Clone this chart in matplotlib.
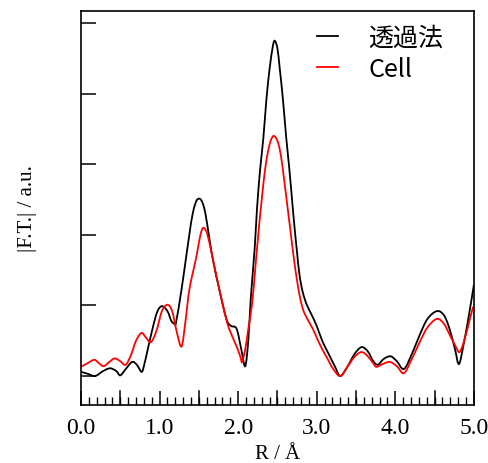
import numpy as np
import matplotlib
matplotlib.use("Agg")
import matplotlib.pyplot as plt
from matplotlib.ticker import MultipleLocator
from matplotlib.path import Path
from matplotlib.patches import PathPatch

# R / Å and |F.T.| (arbitrary units, one y tick = 1)
r_trans = [0.00, 0.09, 0.18, 0.28, 0.37, 0.45, 0.50, 0.57, 0.65, 0.71, 0.77, 0.80,
           0.85, 0.91, 0.97, 1.03, 1.10, 1.15, 1.19, 1.21, 1.28, 1.34, 1.42, 1.49,
           1.57, 1.67, 1.76, 1.85, 1.91, 1.98, 2.04, 2.09, 2.13, 2.16, 2.21, 2.24,
           2.28, 2.32, 2.36, 2.40, 2.44, 2.465, 2.50, 2.53, 2.57, 2.61, 2.65, 2.69,
           2.72, 2.75, 2.78, 2.82, 2.87, 2.93, 3.00, 3.07, 3.14, 3.23, 3.30,
           3.39, 3.48, 3.57, 3.65, 3.72, 3.78, 3.85, 3.94, 4.02, 4.11, 4.21, 4.31,
           4.41, 4.53, 4.62, 4.69, 4.76, 4.81, 4.87, 4.94, 5.00]
ft_trans = [0.06, 0.03, 0.00, 0.07, 0.11, 0.07, 0.01, 0.10, 0.20, 0.16, 0.06, 0.14,
            0.38, 0.67, 0.91, 0.99, 0.92, 0.78, 0.74, 0.76, 1.23, 1.70, 2.29, 2.51,
            2.37, 1.70, 1.23, 0.81, 0.71, 0.67, 0.38, 0.14, 0.52, 1.09, 1.80, 2.37,
            2.93, 3.36, 3.92, 4.35, 4.66, 4.75, 4.64, 4.35, 3.92, 3.40, 2.95, 2.45,
            2.08, 1.75, 1.44, 1.20, 1.02, 0.88, 0.71, 0.50, 0.34, 0.14, 0.00,
            0.13, 0.31, 0.41, 0.35, 0.21, 0.16, 0.24, 0.28, 0.21, 0.10, 0.31, 0.58,
            0.81, 0.92, 0.86, 0.67, 0.38, 0.17, 0.45, 0.88, 1.29]

r_cell = [0.00, 0.08, 0.17, 0.23, 0.29, 0.36, 0.43, 0.50, 0.57, 0.64, 0.70, 0.77,
          0.83, 0.89, 0.96, 1.03, 1.10, 1.16, 1.22, 1.28, 1.33, 1.38, 1.47, 1.52,
          1.56, 1.61, 1.67, 1.76, 1.86, 1.93, 1.98, 2.03, 2.05, 2.09, 2.13, 2.18,
          2.22, 2.26, 2.30, 2.34, 2.38, 2.42, 2.46, 2.51, 2.55, 2.59, 2.63, 2.67,
          2.71, 2.75, 2.79, 2.83, 2.88, 2.95, 3.01, 3.07, 3.14, 3.21, 3.30, 3.39,
          3.48, 3.57, 3.65, 3.72, 3.76, 3.84, 3.93, 4.02, 4.11, 4.21, 4.31, 4.41,
          4.53, 4.62, 4.69, 4.76, 4.82, 4.89, 4.95, 4.99]
ft_cell = [0.13, 0.18, 0.23, 0.18, 0.14, 0.20, 0.25, 0.21, 0.16, 0.31, 0.50, 0.61,
           0.54, 0.48, 0.64, 0.92, 1.01, 0.92, 0.62, 0.42, 0.78, 1.23, 1.70, 2.00,
           2.10, 2.00, 1.70, 1.23, 0.76, 0.55, 0.42, 0.27, 0.20, 0.38, 0.67, 1.05,
           1.55, 2.05, 2.50, 2.90, 3.18, 3.35, 3.40, 3.30, 3.08, 2.74, 2.38, 2.02,
           1.66, 1.35, 1.10, 0.93, 0.81, 0.67, 0.52, 0.38, 0.24, 0.10, 0.00, 0.13,
           0.27, 0.34, 0.28, 0.18, 0.13, 0.17, 0.20, 0.14, 0.04, 0.24, 0.48, 0.69,
           0.81, 0.74, 0.59, 0.44, 0.34, 0.55, 0.81, 0.98]

labels = ["透過法", "Cell"]
x_ticks = [0, 1, 2, 3, 4, 5]

serif = "Liberation Serif"


def smooth_path(xs, ys):
    # Catmull-Rom through the read points, drawn as cubic Bezier segments
    p = np.column_stack([xs, ys])
    verts = [p[0]]
    codes = [Path.MOVETO]
    n = len(p)
    for i in range(n - 1):
        p0 = p[max(i - 1, 0)]
        p1, p2 = p[i], p[i + 1]
        p3 = p[min(i + 2, n - 1)]
        verts += [p1 + (p2 - p0) / 6, p2 - (p3 - p1) / 6, p2]
        codes += [Path.CURVE4] * 3
    return Path(verts, codes)


fig = plt.figure(figsize=(4.88, 4.64), dpi=100)
ax = fig.add_axes([0.166, 0.125, 0.805, 0.849])

for xs, ys, c, lab in [(r_trans, ft_trans, "black", labels[0]),
                       (r_cell, ft_cell, "red", labels[1])]:
    ax.add_patch(PathPatch(smooth_path(xs, ys), fill=False, edgecolor=c, lw=1.3))
    ax.plot([], [], color=c, lw=1.3, label=lab)

ax.set_xlim(0, 5.0)
ax.set_ylim(-0.41, 5.17)

ax.set_xticks(x_ticks)
ax.set_xticklabels([f"{v:.1f}" for v in x_ticks], fontfamily=serif, fontsize=17)
ax.xaxis.set_minor_locator(MultipleLocator(0.1))
ax.set_yticks([0, 1, 2, 3, 4, 5])
ax.set_yticklabels([])

ax.tick_params(axis="x", which="major", direction="in", length=10, width=1.1, pad=9)
ax.tick_params(axis="x", which="minor", direction="in", length=5.5, width=1.0)
ax.tick_params(axis="y", which="major", direction="in", length=11, width=1.1)
# 0.5 marks are as tall as the labelled ones
for v in [0.5, 1.5, 2.5, 3.5, 4.5]:
    ax.axvline(v, ymin=0, ymax=13.9 / 394, color="black", lw=1.1)

for s in ax.spines.values():
    s.set_linewidth(1.2)

ax.set_xlabel("R / Å", fontfamily=serif, fontsize=15, labelpad=4)
ax.set_ylabel("|F.T.| / a.u.", fontfamily=serif, fontsize=15, labelpad=28)

ax.legend(loc="upper left", bbox_to_anchor=(317 / 488, 1 - 26 / 464),
          bbox_transform=fig.transFigure, frameon=False, borderpad=0,
          borderaxespad=0, handlelength=0.85, handletextpad=1.2,
          labelspacing=0.2, prop={"family": ["Noto Sans CJK JP", "DejaVu Sans"], "size": 18})

fig.savefig("out.png", dpi=100)
